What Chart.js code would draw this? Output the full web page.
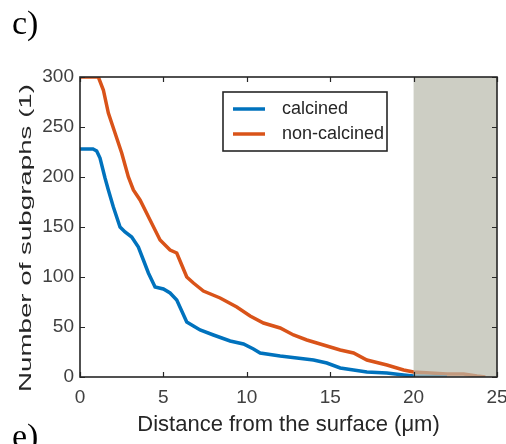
<!DOCTYPE html>
<html>
<head>
<meta charset="utf-8">
<script src="https://cdn.jsdelivr.net/npm/chart.js@4/dist/chart.umd.min.js"></script>
<style>
  body { margin: 0; background: #fff; }
  #wrap { position: relative; width: 506px; height: 444px; overflow: hidden; }
</style>
</head>
<body>
<div id="wrap"><canvas id="subgraphChart" width="506" height="444"></canvas></div>
<script>
// data
const seriesLabels = ['calcined', 'non-calcined'];
const distCalcined = [0, 0.78, 1.0, 1.2, 1.5, 1.7, 2.0, 2.4, 2.7, 3.1, 3.5, 3.8, 4.1, 4.5, 5.0, 5.4, 5.8, 6.1, 6.4, 6.8, 7.2, 8.0, 9.0, 9.8, 10.4, 10.8, 12.0, 13.0, 14.0, 14.8, 15.6, 16.4, 17.2, 18.4, 19.4, 20.0, 21.0, 22.0];
const subgraphsCalcined = [228, 228, 226, 219, 199, 187, 170, 150, 145, 140, 130, 117, 104, 90, 88, 84, 77, 66, 55, 51, 47, 42, 36, 33, 28, 24, 21, 19, 17, 14, 9, 7, 5, 4, 2, 1, 0.5, 0];
const distNonCalcined = [0, 1.1, 1.4, 1.7, 2.1, 2.5, 2.9, 3.2, 3.6, 4.2, 4.8, 5.4, 5.8, 6.1, 6.4, 6.8, 7.4, 8.4, 9.4, 10.2, 11.0, 12.0, 12.8, 13.6, 14.6, 15.6, 16.4, 17.2, 18.4, 19.4, 20.0, 21.0, 22.0, 23.0, 23.8, 24.3];
const subgraphsNonCalcined = [300, 300, 287, 264, 244, 224, 200, 187, 177, 157, 137, 127, 124, 112, 100, 94, 86, 79, 70, 61, 54, 49, 42, 37, 32, 27, 24, 17, 12, 7, 5, 4, 3, 3, 1, 0];
const xTickValues = [0, 5, 10, 15, 20, 25];
const yTickValues = [0, 50, 100, 150, 200, 250, 300];
const shadedRange = [20, 25];

const blue = '#0072BD';
const orange = '#D95319';
const ink = '#262626';

function toPoints(xs, ys) {
    return xs.map((x, i) => ({ x: x, y: ys[i] }));
}

// grey patch, box, inward ticks, legend, panel letters
const decorations = {
    id: 'decorations',
    afterDatasetsDraw(chart) {
        const ctx = chart.ctx;
        const a = chart.chartArea;
        const x = chart.scales.x;
        const x0 = x.getPixelForValue(shadedRange[0]);
        const x1 = x.getPixelForValue(shadedRange[1]);
        ctx.save();
        ctx.fillStyle = 'rgba(184, 185, 171, 0.7)';
        ctx.fillRect(x0, a.top, x1 - x0, a.bottom - a.top);
        ctx.restore();
    },
    afterDraw(chart) {
        const ctx = chart.ctx;
        const a = chart.chartArea;
        const xs = chart.scales.x;
        const ys = chart.scales.y;
        ctx.save();

        // ticks pointing inward, on all four sides
        ctx.strokeStyle = ink;
        ctx.lineWidth = 1.2;
        ctx.beginPath();
        xTickValues.forEach(v => {
            const px = Math.round(xs.getPixelForValue(v)) + 0.5;
            ctx.moveTo(px, a.bottom); ctx.lineTo(px, a.bottom - 5);
            ctx.moveTo(px, a.top); ctx.lineTo(px, a.top + 5);
        });
        yTickValues.forEach(v => {
            const py = Math.round(ys.getPixelForValue(v)) + 0.5;
            ctx.moveTo(a.left, py); ctx.lineTo(a.left + 5, py);
            ctx.moveTo(a.right, py); ctx.lineTo(a.right - 5, py);
        });
        ctx.stroke();

        // box
        ctx.lineWidth = 1.6;
        ctx.strokeRect(a.left, a.top, a.right - a.left, a.bottom - a.top);

        // legend
        const lx = a.left + 143, ly = a.top + 15, lw = 164, lh = 59;
        ctx.fillStyle = '#fff';
        ctx.fillRect(lx, ly, lw, lh);
        ctx.lineWidth = 1.6;
        ctx.strokeStyle = ink;
        ctx.strokeRect(lx, ly, lw, lh);
        const colors = [blue, orange];
        ctx.font = '18px "Liberation Sans", Arial, sans-serif';
        ctx.textBaseline = 'middle';
        ctx.textAlign = 'left';
        chart.data.datasets.forEach((ds, i) => {
            const rowY = ly + 17 + i * 25;
            ctx.strokeStyle = colors[i];
            ctx.lineWidth = 3.5;
            ctx.beginPath();
            ctx.moveTo(lx + 10, rowY);
            ctx.lineTo(lx + 42, rowY);
            ctx.stroke();
            ctx.fillStyle = ink;
            ctx.fillText(ds.label, lx + 59, rowY);
        });

        // y axis title, drawn tall as in the figure
        ctx.save();
        ctx.translate(26, 238);
        ctx.rotate(-Math.PI / 2);
        ctx.font = '17px "Liberation Sans", Arial, sans-serif';
        ctx.textAlign = 'center';
        ctx.textBaseline = 'middle';
        const yTitle = 'Number of subgraphs (1)';
        const w = ctx.measureText(yTitle).width;
        ctx.scale(308 / w, 1);
        ctx.fillStyle = ink;
        ctx.fillText(yTitle, 0, 0);
        ctx.restore();

        // panel letters
        ctx.font = '34px "Liberation Serif", "Times New Roman", serif';
        ctx.fillStyle = '#000';
        ctx.textAlign = 'left';
        ctx.textBaseline = 'alphabetic';
        ctx.fillText('c)', 12, 34);
        ctx.fillText('e)', 12, 447);

        ctx.restore();
    }
};

const ctx = document.getElementById('subgraphChart').getContext('2d');
const subgraphChart = new Chart(ctx, {
    type: 'line',
    data: {
        datasets: [{
            label: seriesLabels[0],
            data: toPoints(distCalcined, subgraphsCalcined),
            borderColor: blue,
            backgroundColor: blue,
            borderWidth: 3.5,
            pointRadius: 0,
            tension: 0
        }, {
            label: seriesLabels[1],
            data: toPoints(distNonCalcined, subgraphsNonCalcined),
            borderColor: orange,
            backgroundColor: orange,
            borderWidth: 3.5,
            pointRadius: 0,
            tension: 0
        }]
    },
    options: {
        responsive: false,
        animation: false,
        layout: { padding: { top: 77, right: 9, left: 0, bottom: 0 } },
        plugins: {
            legend: { display: false },
            tooltip: { enabled: false }
        },
        scales: {
            x: {
                type: 'linear',
                min: 0,
                max: 25,
                grid: { display: false, drawTicks: false },
                border: { display: false },
                afterBuildTicks: scale => { scale.ticks = xTickValues.map(v => ({ value: v })); },
                afterFit: scale => { scale.height = 67; scale.paddingLeft = 0; scale.paddingRight = 0; },
                ticks: {
                    color: '#404040',
                    padding: 9,
                    maxRotation: 0,
                    font: { family: '"Liberation Sans", Arial, sans-serif', size: 19 }
                },
                title: {
                    display: true,
                    text: 'Distance from the surface (μm)',
                    color: ink,
                    padding: { top: 0, bottom: 6 },
                    font: { family: '"Liberation Sans", Arial, sans-serif', size: 22 }
                }
            },
            y: {
                type: 'linear',
                min: 0,
                max: 300,
                grid: { display: false, drawTicks: false },
                border: { display: false },
                afterBuildTicks: scale => { scale.ticks = yTickValues.map(v => ({ value: v })); },
                afterFit: scale => { scale.width = 80; },
                ticks: {
                    color: '#404040',
                    padding: 6,
                    font: { family: '"Liberation Sans", Arial, sans-serif', size: 19 }
                }
            }
        }
    },
    plugins: [decorations]
});
</script>
</body>
</html>
